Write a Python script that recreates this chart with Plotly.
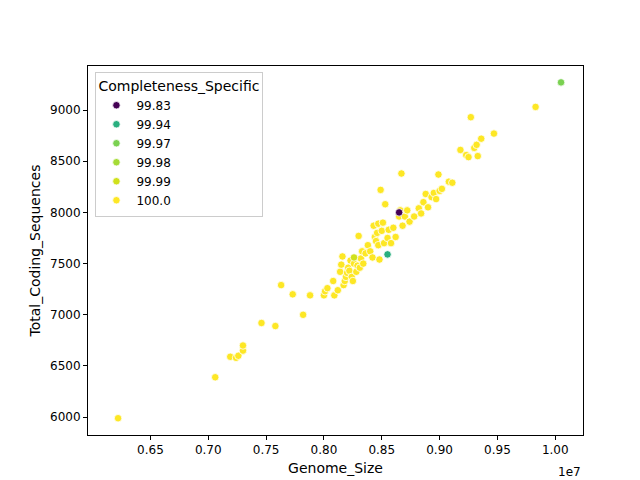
import plotly.graph_objects as go

# genome size in units of 1e7, coding sequences
genome_size = [0.622, 0.706, 0.719, 0.724, 0.726, 0.730, 0.730, 0.746, 0.758, 0.763, 0.773, 0.782, 0.788,
               0.800, 0.801, 0.803, 0.808, 0.809, 0.812, 0.814, 0.815, 0.816, 0.817, 0.818, 0.819, 0.820,
               0.821, 0.822, 0.823, 0.824, 0.825, 0.826, 0.828, 0.829, 0.830, 0.831, 0.832, 0.833, 0.834,
               0.836, 0.838, 0.840, 0.842, 0.843, 0.844, 0.845, 0.846, 0.847, 0.847, 0.848, 0.849, 0.850,
               0.851, 0.852, 0.853, 0.855, 0.856, 0.858, 0.860, 0.862, 0.865, 0.866, 0.867, 0.868, 0.870,
               0.872, 0.874, 0.878, 0.882, 0.884, 0.886, 0.888, 0.890, 0.893, 0.895, 0.897, 0.899, 0.900,
               0.902, 0.908, 0.911, 0.918, 0.923, 0.925, 0.927, 0.930, 0.932, 0.933, 0.936, 0.947, 0.983,
               0.865, 0.855, 1.005, 0.826]
coding_seqs = [5990, 6390, 6590, 6580, 6600, 6650, 6700, 6920, 6890, 7290, 7200, 7000, 7190,
               7190, 7230, 7260, 7330, 7190, 7240, 7420, 7490, 7570, 7290, 7330, 7370, 7410,
               7460, 7430, 7530, 7370, 7330, 7500, 7420, 7480, 7770, 7460, 7550, 7620, 7500,
               7600, 7680, 7620, 7560, 7870, 7760, 7720, 7800, 7890, 7680, 7540, 8220, 7820,
               7900, 7700, 8080, 7750, 7830, 7700, 7850, 7760, 7960, 8020, 8380, 7870, 7960,
               8020, 7910, 7960, 8040, 7990, 8100, 8180, 8050, 8150, 8190, 8130, 8370, 8210,
               8230, 8300, 8290, 8610, 8560, 8540, 8930, 8630, 8660, 8550, 8720, 8770, 9030,
               8000, 7590, 9270, 7560]
completeness = [100.0] * 91 + [99.83, 99.94, 99.97, 99.99]

levels = [99.83, 99.94, 99.97, 99.98, 99.99, 100.0]
level_colors = ['#440154', '#29af7f', '#7ad151', '#a5db36', '#d0e11c', '#fde725']
draw_order = [100.0, 99.99, 99.98, 99.97, 99.94, 99.83]

fig = go.Figure()
for lv in draw_order:
    xs = [g * 1e7 for g, c in zip(genome_size, completeness) if c == lv]
    ys = [y for y, c in zip(coding_seqs, completeness) if c == lv]
    fig.add_trace(go.Scatter(
        x=xs if xs else [None], y=ys if ys else [None], mode='markers', name=str(lv),
        legendrank=levels.index(lv),
        marker=dict(color=level_colors[levels.index(lv)], size=7.5,
                    line=dict(color='white', width=0.8))))

xtick_vals = [0.65, 0.70, 0.75, 0.80, 0.85, 0.90, 0.95, 1.00]
axis_style = dict(showgrid=False, zeroline=False, showline=True, mirror=True, linecolor='black',
                  linewidth=1, ticks='outside', ticklen=4, tickcolor='black', automargin=False)
fig.update_xaxes(range=[0.596e7, 1.024e7], tickvals=[v * 1e7 for v in xtick_vals],
                 ticktext=[f'{v:.2f}' for v in xtick_vals],
                 title=dict(text='Genome_Size', standoff=6), **axis_style)
fig.update_yaxes(range=[5826, 9430], tickvals=[6000, 6500, 7000, 7500, 8000, 8500, 9000],
                 title=dict(text='Total_Coding_Sequences', standoff=6), **axis_style)
fig.add_annotation(text='1e7', xref='paper', yref='paper', x=1, y=-0.075,
                   xanchor='right', yanchor='top', showarrow=False, font=dict(size=12))
fig.update_layout(
    width=640, height=480, plot_bgcolor='white', paper_bgcolor='white',
    margin=dict(l=80, r=65, t=58, b=53, autoexpand=False),
    font=dict(family='DejaVu Sans', size=12, color='black'),
    legend=dict(title=dict(text='Completeness_Specific', side='top'), x=0.015, y=0.985,
                xanchor='left', yanchor='top', bordercolor='#cccccc', borderwidth=1,
                bgcolor='rgba(255,255,255,0.8)', font=dict(size=12), tracegroupgap=0),
)
fig.write_html("out.html")
